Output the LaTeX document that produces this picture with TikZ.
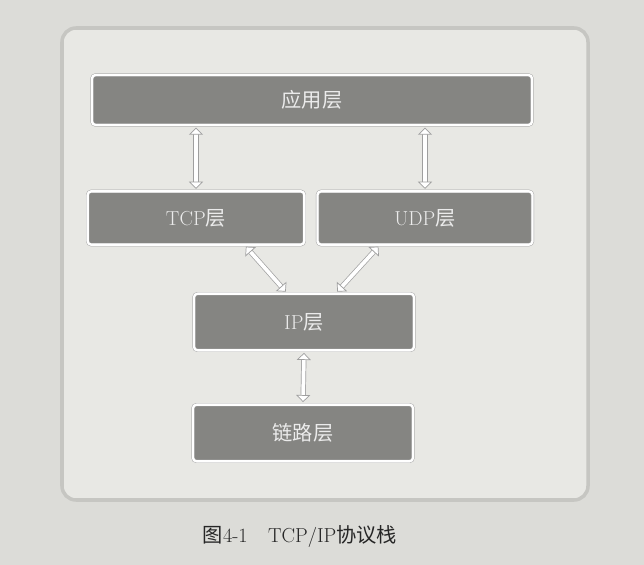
\documentclass[tikz,border=0pt]{standalone}
\usepackage{fontspec}
\newfontfamily\cjk{Noto Sans CJK SC}
\usetikzlibrary{arrows.meta}

\definecolor{page}{HTML}{DCDCD8}
\definecolor{panel}{HTML}{E8E8E4}
\definecolor{rim}{HTML}{C6C6C2}
\definecolor{layerfill}{HTML}{858582}

\tikzset{
  layer/.style={rectangle,rounded corners=3pt,fill=layerfill,draw=gray!70,
    double=white,double distance=2pt,text=white!92!black,font=\LARGE},
  link/.style={draw=gray!75,line width=0.6pt,double=white,double distance=3.2pt,
    {Triangle[open,fill=white,length=6pt,width=12pt,line width=0.6pt]}-{Triangle[open,fill=white,length=6pt,width=12pt,line width=0.6pt]},
    shorten >=2pt,shorten <=2pt}
}

\begin{document}
\begin{tikzpicture}[x=0.03cm,y=-0.03cm]
      \useasboundingbox[fill=page] (0,0) rectangle (644,565);
      \draw[rim,fill=panel,line width=3pt,rounded corners=12pt] (62,28) rectangle (588,500);

      \node [layer,minimum width=13.2cm,minimum height=1.5cm] (app) at (312,100) {{\cjk 应用层}};
      \node [layer,minimum width=6.5cm,minimum height=1.6cm] (TCP) at (196,218) {TCP{\cjk 层}};
      \node [layer,minimum width=6.45cm,minimum height=1.6cm] (UDP) at (425,218) {UDP{\cjk 层}};
      \node [layer,minimum width=6.6cm,minimum height=1.7cm] (IP) at (304,322) {IP{\cjk 层}};
      \node [layer,minimum width=6.6cm,minimum height=1.7cm] (link) at (303,433) {{\cjk 链路层}};

      \draw [link] (app.south -| TCP.north) -- (TCP.north);
      \draw [link] (app.south -| UDP.north) -- (UDP.north);
      \draw [link] ([xshift=1.45cm]TCP.south) -- ([xshift=-0.5cm]IP.north);
      \draw [link] ([xshift=-1.35cm]UDP.south) -- ([xshift=0.95cm]IP.north);
      \draw [link] (IP.south) -- (link.north);

      \node [font=\LARGE,text=black!85] (caption) at (300,537) {{\cjk 图}4-1\quad TCP/IP{\cjk 协议栈}};
    \end{tikzpicture}
\end{document}
